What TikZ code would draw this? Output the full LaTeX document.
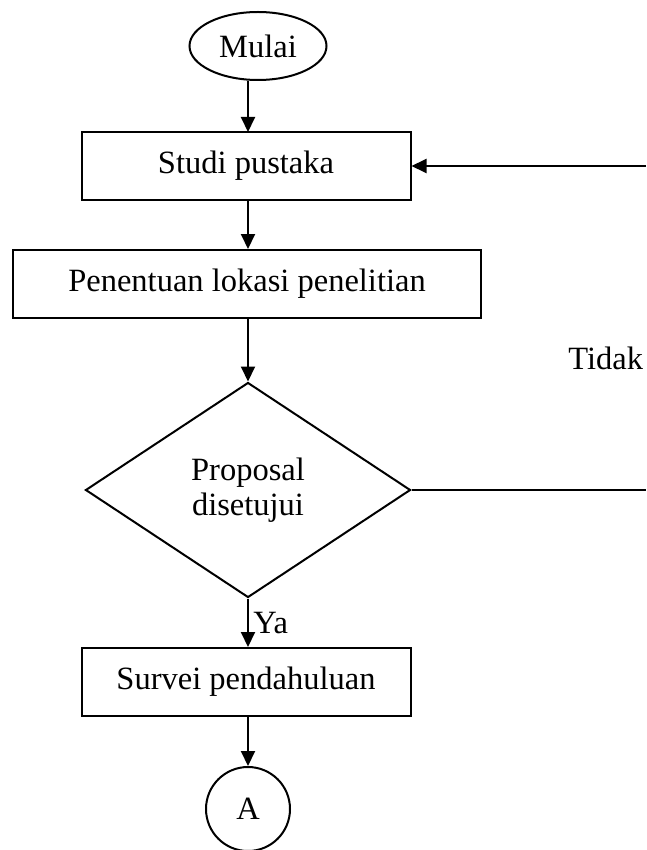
\documentclass[tikz,border=0pt]{standalone}
\usepackage{fontspec}
\setmainfont{Liberation Serif}
\usetikzlibrary{arrows.meta}
\usetikzlibrary{shapes.geometric}

\begin{document}
\begin{tikzpicture}[x=1pt, y=1pt, line width=2pt,
        font=\fontsize{32.5}{36}\selectfont,
        start_style/.style={ellipse,draw=black,minimum width=137pt,minimum height=68pt,inner sep=0pt},
        box_style/.style={rectangle,draw=black,minimum height=68pt,inner sep=0pt},
        decision_style/.style={diamond,draw=black,minimum width=325pt,minimum height=215pt,inner sep=0pt,align=center},
        connector_style/.style={circle,draw=black,minimum size=84pt,inner sep=0pt},
        edge_style/.style={draw=black, -{Triangle[length=15pt,width=14pt]}},
        line_style/.style={draw=black}]

        \useasboundingbox (0,0) rectangle (646,-850);

        \node [start_style](n1) at (258,-46) {Mulai};

        \node [box_style,minimum width=329pt](n2) at (246,-166) {Studi pustaka};

        \node [box_style,minimum width=468pt](n3) at (247,-284) {Penentuan lokasi penelitian};

        \node [decision_style](n4) at (248,-490) {Proposal\\[-1pt]disetujui};

        \node [box_style,minimum width=329pt](n5) at (246,-682) {Survei pendahuluan};

        \node [connector_style](n6) at (248,-809) {A};

        \node [anchor=east,inner sep=0pt](tidak) at (644,-358) {Tidak};

        \coordinate (r1) at (646,-490);

        \coordinate (r2) at (646,-166);

        \draw [edge_style] (n1.south -| 248,0) -- (248,-132);

        \draw [edge_style] (n2.south -| 248,0) -- (n3.north -| 248,0);

        \draw [edge_style] (n3.south -| 248,0) -- (n4.north);

        \draw [edge_style] (n4.south) -- node[right,xshift=1pt]{Ya} (n5.north -| 248,0);

        \draw [edge_style] (n5.south -| 248,0) -- (n6.north);

        \draw [line_style] (n4.east) -- (r1);

        \draw [edge_style] (r2) -- (n2.east);

        \end{tikzpicture}
\end{document}
